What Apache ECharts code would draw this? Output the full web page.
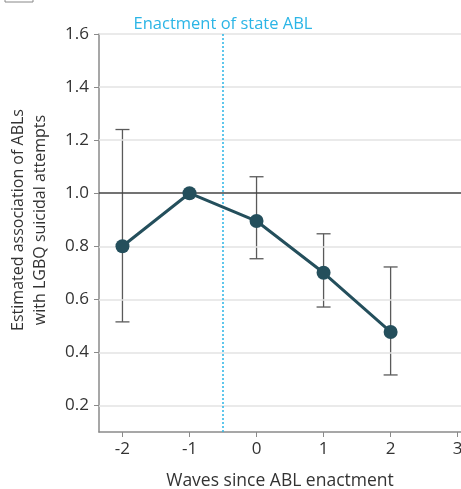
<!DOCTYPE html>
<html>
<head>
<meta charset="utf-8">
<script src="https://cdn.jsdelivr.net/npm/echarts@6/dist/echarts.min.js"></script>
<style>
  html, body { margin: 0; padding: 0; background: #fff; }
  #chart { width: 461px; height: 489px; }
</style>
</head>
<body>
<div id="chart"></div>
<script>
// waves relative to the law, point estimate and 95% CI
var waves = [-2, -1, 0, 1, 2]
var estimate = [0.80, 1.00, 0.895, 0.70, 0.477]
var ciLow = [0.515, null, 0.753, 0.571, 0.315]
var ciHigh = [1.24, null, 1.062, 0.847, 0.722]
var yTicks = [0.2, 0.4, 0.6, 0.8, 1.0, 1.2, 1.4, 1.6]
var xTicks = [-2, -1, 0, 1, 2, 3]
var enactAt = -0.5

var font = 'Open Sans'
var myChart = echarts.init(document.getElementById('chart'))

var lineData = waves.map(function (w, i) { return [w, estimate[i]] })
var errData = []
for (var i = 0; i < waves.length; i++) {
  if (ciLow[i] !== null) errData.push([waves[i], ciLow[i], ciHigh[i]])
}

var option = {
  animation: false,
  grid: { left: 99, top: 34, right: 0, bottom: 57, containLabel: false, outerBoundsMode: 'none' },
  xAxis: {
    type: 'value',
    min: -2.35,
    max: 3.05,
    axisLine: { onZero: false, lineStyle: { color: '#8a8a8a', width: 1.5 } },
    axisTick: { length: 5, lineStyle: { color: '#8a8a8a' }, customValues: xTicks },
    axisLabel: {
      customValues: xTicks, color: '#333', fontFamily: font, fontSize: 17, margin: 9,
      formatter: function (v) { return String(v) }
    },
    splitLine: { show: false },
    name: 'Waves since ABL enactment',
    nameLocation: 'middle',
    nameGap: 40,
    nameTextStyle: { color: '#333', fontFamily: font, fontSize: 17.5 }
  },
  yAxis: {
    type: 'value',
    min: 0.1,
    max: 1.6,
    axisLine: { show: true, onZero: false, lineStyle: { color: '#8a8a8a', width: 1.5 } },
    axisTick: { show: true, length: 5, lineStyle: { color: '#8a8a8a' }, customValues: yTicks },
    axisLabel: {
      customValues: yTicks, color: '#333', fontFamily: font, fontSize: 17, margin: 10,
      formatter: function (v) { return v.toFixed(1) }
    },
    splitLine: { show: false },
    name: 'Estimated association of ABLs\nwith LGBQ suicidal attempts',
    nameLocation: 'middle',
    nameGap: 48,
    nameTextStyle: {
      color: '#333', fontFamily: font, fontSize: 16, lineHeight: 22,
      padding: [0, 0, 0, 26]
    }
  },
  graphic: [
    { type: 'rect', shape: { x: 5, y: -2, width: 28, height: 4 },
      style: { fill: 'none', stroke: '#888', lineWidth: 1 } }
  ],
  series: [
    {
      // light horizontal grid lines
      type: 'line',
      data: [],
      silent: true,
      markLine: {
        symbol: 'none',
        silent: true,
        label: { show: false },
        lineStyle: { color: '#e3e3e3', width: 1.5, type: 'solid' },
        data: yTicks.filter(function (v) { return v !== 1.0 }).map(function (v) { return { yAxis: v } })
      }
    },
    {
      // reference at 1.0 and the enactment line
      type: 'line',
      data: [],
      silent: true,
      z: 3,
      markLine: {
        symbol: 'none',
        silent: true,
        data: [
          { yAxis: 1.0, label: { show: false }, lineStyle: { color: '#444', width: 1.5, type: 'solid' } },
          {
            xAxis: enactAt,
            lineStyle: { color: '#2bb5e6', width: 1.5, type: [2, 2] },
            label: {
              show: true, position: 'end', formatter: 'Enactment of state ABL',
              color: '#2bb5e6', fontFamily: font, fontSize: 16.5, distance: 1
            }
          }
        ]
      }
    },
    {
      type: 'custom',
      z: 4,
      data: errData,
      renderItem: function (params, api) {
        var x = api.value(0)
        var lo = api.coord([x, api.value(1)])
        var hi = api.coord([x, api.value(2)])
        var cap = 7
        var st = { stroke: '#5a5a5a', lineWidth: 1.3 }
        return {
          type: 'group',
          children: [
            { type: 'line', shape: { x1: lo[0], y1: lo[1], x2: hi[0], y2: hi[1] }, style: st },
            { type: 'line', shape: { x1: lo[0] - cap, y1: lo[1], x2: lo[0] + cap, y2: lo[1] }, style: st },
            { type: 'line', shape: { x1: hi[0] - cap, y1: hi[1], x2: hi[0] + cap, y2: hi[1] }, style: st }
          ]
        }
      }
    },
    {
      type: 'line',
      z: 5,
      data: lineData,
      symbol: 'circle',
      symbolSize: 14,
      lineStyle: { color: '#244f5c', width: 3 },
      itemStyle: { color: '#244f5c' }
    }
  ]
}

myChart.setOption(option)
</script>
</body>
</html>
